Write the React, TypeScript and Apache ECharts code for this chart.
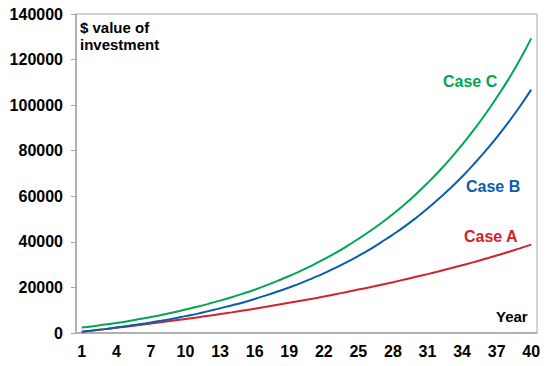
import React, { useEffect, useRef } from "react";
import * as echarts from "echarts";

const years = Array.from({ length: 40 }, (_, i) => String(i + 1));

const caseA = [
  600, 1150, 1700, 2300, 2900, 3500, 4150, 4800, 5450, 6150,
  6850, 7550, 8300, 9050, 9850, 10650, 11500, 12350, 13250, 14150,
  15050, 16000, 17000, 18000, 19050, 20100, 21200, 22300, 23450, 24650,
  25850, 27100, 28400, 29750, 31100, 32550, 34000, 35550, 37150, 38800,
];

const caseB = [
  540, 1100, 1700, 2400, 3100, 3800, 4600, 5500, 6400, 7400,
  8400, 9600, 10800, 12100, 13400, 14900, 16500, 18200, 20000, 21900,
  24000, 26200, 28600, 31100, 33800, 36700, 39900, 43200, 46700, 50500,
  54600, 59000, 63600, 68600, 74000, 79700, 85800, 92300, 99300, 106800,
];

const caseC = [
  2400, 3000, 3700, 4400, 5200, 6100, 7000, 8000, 9100, 10300,
  11500, 12800, 14200, 15700, 17300, 19000, 20900, 22900, 25000, 27300,
  29700, 32300, 35100, 38100, 41300, 44700, 48300, 52200, 56400, 60900,
  65800, 71000, 76600, 82600, 89000, 95900, 103300, 111200, 119800, 129300,
];

const seriesNames = ["Case A", "Case B", "Case C"];
const colors = ["#D2232A", "#0B5CAD", "#00A650"];

const FONT = "'Liberation Sans', Arial, sans-serif";

export default function App() {
  const ref = useRef<HTMLDivElement>(null);

  useEffect(() => {
    document.body.style.margin = "0";
    const chart = echarts.init(ref.current!, null, { renderer: "svg" });
    const dataSets = [caseA, caseB, caseC];
    chart.setOption({
      animation: false,
      backgroundColor: "#ffffff",
      grid: {
        left: 76,
        right: 11,
        top: 14,
        bottom: 33,
        show: true,
        borderColor: "#a6a6a6",
        borderWidth: 1,
        backgroundColor: "transparent",
      },
      xAxis: {
        type: "category",
        data: years,
        boundaryGap: true,
        axisLine: { lineStyle: { color: "#a6a6a6", width: 1.5 } },
        axisTick: { interval: 2, length: 5, lineStyle: { color: "#a6a6a6" } },
        axisLabel: {
          interval: 2,
          color: "#000",
          fontWeight: "bold",
          fontSize: 16,
          fontFamily: FONT,
          margin: 10,
        },
        splitLine: { show: false },
      },
      yAxis: {
        type: "value",
        min: 0,
        max: 140000,
        interval: 20000,
        axisLine: { show: true, lineStyle: { color: "#a6a6a6", width: 1.5 } },
        axisTick: { show: true, length: 5, lineStyle: { color: "#a6a6a6" } },
        axisLabel: {
          color: "#000",
          fontWeight: "bold",
          fontSize: 16,
          fontFamily: FONT,
          margin: 13,
          formatter: (v: number) => String(v),
        },
        splitLine: { show: false },
      },
      series: dataSets.map((d, i) => ({
        name: seriesNames[i],
        type: "line",
        data: d,
        smooth: true,
        showSymbol: false,
        lineStyle: { color: colors[i], width: 2 },
        itemStyle: { color: colors[i] },
      })),
      graphic: [
        {
          type: "text",
          left: 80,
          top: 19,
          style: {
            text: "$ value of\ninvestment",
            fill: "#000",
            font: `bold 15px ${FONT}`,
            lineHeight: 17,
          },
        },
        {
          type: "text",
          left: 496,
          top: 309,
          style: { text: "Year", fill: "#000", font: `bold 15px ${FONT}` },
        },
        {
          type: "text",
          left: 443,
          top: 73,
          style: { text: "Case C", fill: colors[2], font: `bold 16px ${FONT}` },
        },
        {
          type: "text",
          left: 466,
          top: 178,
          style: { text: "Case B", fill: colors[1], font: `bold 16px ${FONT}` },
        },
        {
          type: "text",
          left: 464,
          top: 228,
          style: { text: "Case A", fill: colors[0], font: `bold 16px ${FONT}` },
        },
      ],
    });
    return () => chart.dispose();
  }, []);

  return (
    <div
      ref={ref}
      style={{ position: "absolute", left: 0, top: 0, width: 548, height: 366 }}
    />
  );
}
